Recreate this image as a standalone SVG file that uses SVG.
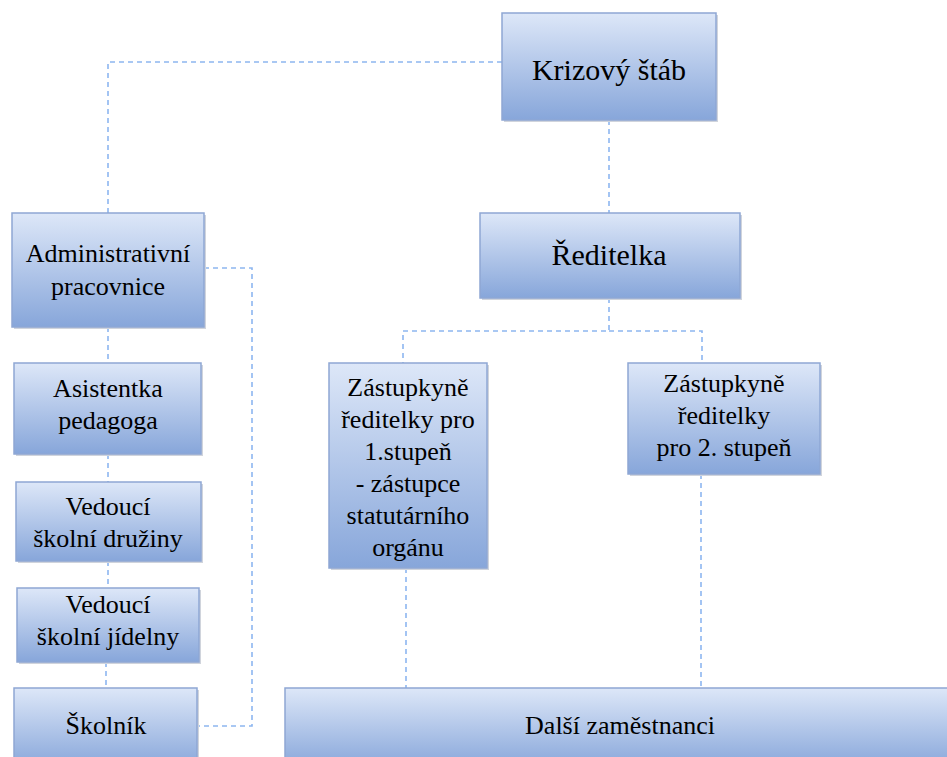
<svg xmlns="http://www.w3.org/2000/svg" width="947" height="757" viewBox="0 0 947 757">
<defs>
<linearGradient id="g" x1="0" y1="0" x2="0" y2="1">
<stop offset="0" stop-color="#dde7f8"/>
<stop offset="1" stop-color="#87a6da"/>
</linearGradient>
</defs>
<style>
.box{fill:url(#g);stroke:#8ea7d4;stroke-width:1.5}
.sh{fill:#d0d4dc}
text{font-size:26px;fill:#000;text-anchor:middle}
.big{font-size:30px}
.c{fill:none;stroke:#8db6f0;stroke-width:1.6;stroke-dasharray:5 4}
</style>
<rect width="947" height="757" fill="#fff"/>
<g id="connectors">
<path class="c" d="M502,62 H108 V213"/>
<path class="c" d="M609,120 V213"/>
<path class="c" d="M609,298 V331 H403 V363"/>
<path class="c" d="M609,331 H702 V363"/>
<path class="c" d="M406,568 V688"/>
<path class="c" d="M701,474 V688"/>
<path class="c" d="M204,268 H252 V726 H197"/>
<path class="c" d="M108,327 V363"/>
<path class="c" d="M108,454 V482"/>
<path class="c" d="M108,561 V588"/>
<path class="c" d="M106,662 V688"/>
</g>
<g font-family="Liberation Serif, Times New Roman, serif">
<g id="krizovy">
<rect class="sh" x="504" y="15" width="214" height="107"/>
<rect class="box" x="502" y="13" width="214" height="107"/>
<text class="big" x="609" y="80">Krizový štáb</text>
</g>
<g id="reditelka">
<rect class="sh" x="482" y="215" width="260" height="85"/>
<rect class="box" x="480" y="213" width="260" height="85"/>
<text class="big" x="609" y="265">Ředitelka</text>
</g>
<g id="administrativni">
<rect class="sh" x="14" y="215" width="192" height="114"/>
<rect class="box" x="12" y="213" width="192" height="114"/>
<text x="108" y="262">Administrativní</text>
<text x="108" y="295">pracovnice</text>
</g>
<g id="asistentka">
<rect class="sh" x="16" y="365" width="187" height="91"/>
<rect class="box" x="14" y="363" width="187" height="91"/>
<text x="108" y="397">Asistentka</text>
<text x="108" y="429">pedagoga</text>
</g>
<g id="druzina">
<rect class="sh" x="18" y="484" width="185" height="79"/>
<rect class="box" x="16" y="482" width="185" height="79"/>
<text x="108" y="515">Vedoucí</text>
<text x="108" y="547">školní družiny</text>
</g>
<g id="jidelna">
<rect class="sh" x="19" y="590" width="182" height="74"/>
<rect class="box" x="17" y="588" width="182" height="74"/>
<text x="108" y="613">Vedoucí</text>
<text x="108" y="645">školní jídelny</text>
</g>
<g id="skolnik">
<rect class="sh" x="16" y="690" width="183" height="80"/>
<rect class="box" x="14" y="688" width="183" height="80"/>
<text x="106" y="734">Školník</text>
</g>
<g id="zastupkyne1">
<rect class="sh" x="331" y="365" width="158" height="205"/>
<rect class="box" x="329" y="363" width="158" height="205"/>
<text x="408" y="396">Zástupkyně</text>
<text x="408" y="428">ředitelky pro</text>
<text x="408" y="460">1.stupeň</text>
<text x="408" y="492">- zástupce</text>
<text x="408" y="524">statutárního</text>
<text x="408" y="556">orgánu</text>
</g>
<g id="zastupkyne2">
<rect class="sh" x="630" y="365" width="192" height="111"/>
<rect class="box" x="628" y="363" width="192" height="111"/>
<text x="724" y="392">Zástupkyně</text>
<text x="724" y="424">ředitelky</text>
<text x="724" y="456">pro 2. stupeň</text>
</g>
<g id="dalsi">
<rect class="sh" x="287" y="690" width="680" height="80"/>
<rect class="box" x="285" y="688" width="680" height="80"/>
<text x="620" y="734">Další zaměstnanci</text>
</g>
</g>
</svg>
